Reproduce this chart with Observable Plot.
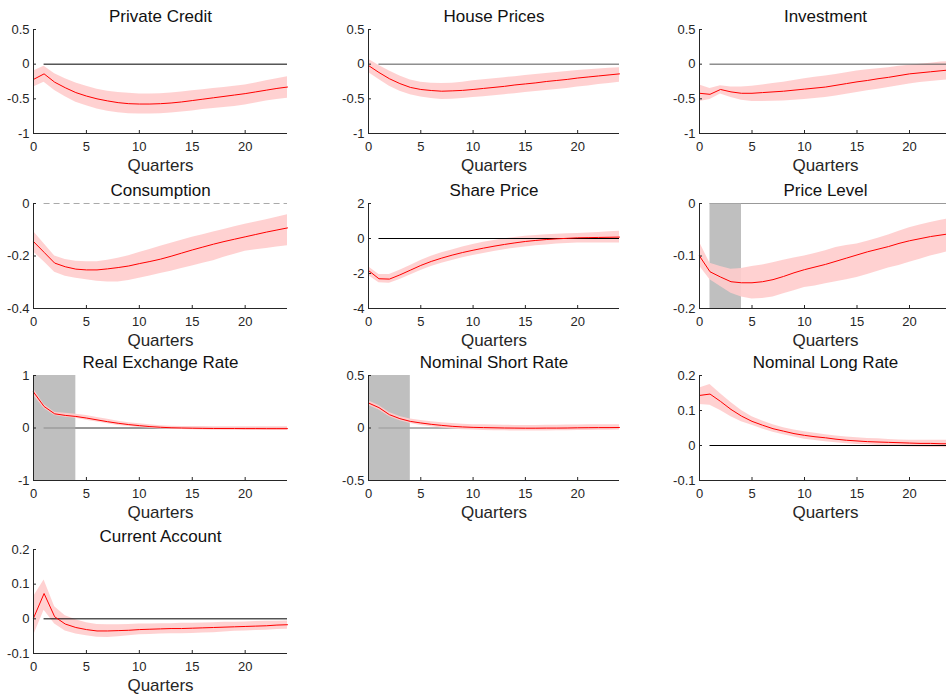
<!DOCTYPE html>
<html>
<head>
<meta charset="utf-8">
<script src="https://cdn.jsdelivr.net/npm/d3@7"></script>
<script src="https://cdn.jsdelivr.net/npm/@observablehq/plot@0.6"></script>
<style>
  body { margin: 0; background: #fff; }
  #grid { position: relative; width: 946px; height: 695px; overflow: hidden; background: #fff; }
  #grid svg { position: absolute; }
</style>
</head>
<body>
<div id="grid"></div>
<script>
// Impulse responses over 24 quarters: median response and error band (lo / hi)
const quarters = d3.range(0, 25);
const xTicks = [0, 5, 10, 15, 20];

const creditMid = [-0.22, -0.14, -0.26, -0.34, -0.41, -0.46, -0.50, -0.53, -0.555, -0.57, -0.575, -0.575, -0.57, -0.56, -0.545, -0.525, -0.505, -0.485, -0.465, -0.445, -0.425, -0.40, -0.375, -0.35, -0.33];
const creditHi  = [-0.10, -0.03, -0.14, -0.21, -0.27, -0.32, -0.36, -0.39, -0.41, -0.42, -0.43, -0.43, -0.425, -0.415, -0.40, -0.385, -0.37, -0.35, -0.335, -0.32, -0.30, -0.27, -0.24, -0.21, -0.18];
const creditLo  = [-0.33, -0.26, -0.38, -0.47, -0.55, -0.60, -0.645, -0.68, -0.70, -0.715, -0.72, -0.72, -0.715, -0.705, -0.69, -0.675, -0.655, -0.64, -0.625, -0.61, -0.59, -0.56, -0.53, -0.51, -0.49];

const houseMid = [-0.02, -0.12, -0.21, -0.28, -0.335, -0.365, -0.38, -0.39, -0.385, -0.378, -0.365, -0.35, -0.335, -0.32, -0.30, -0.285, -0.27, -0.25, -0.235, -0.22, -0.20, -0.185, -0.17, -0.155, -0.14];
const houseHi  = [0.07, -0.02, -0.10, -0.17, -0.23, -0.26, -0.275, -0.28, -0.275, -0.26, -0.24, -0.225, -0.21, -0.195, -0.18, -0.165, -0.15, -0.135, -0.12, -0.105, -0.09, -0.08, -0.07, -0.06, -0.05];
const houseLo  = [-0.12, -0.22, -0.32, -0.39, -0.44, -0.475, -0.495, -0.51, -0.505, -0.495, -0.48, -0.47, -0.455, -0.44, -0.425, -0.41, -0.395, -0.38, -0.365, -0.35, -0.33, -0.315, -0.295, -0.28, -0.26];

const investMid = [-0.42, -0.435, -0.365, -0.40, -0.42, -0.42, -0.41, -0.40, -0.39, -0.375, -0.36, -0.345, -0.33, -0.305, -0.28, -0.255, -0.235, -0.21, -0.19, -0.165, -0.14, -0.125, -0.11, -0.095, -0.08];
const investHi  = [-0.30, -0.35, -0.31, -0.33, -0.33, -0.32, -0.30, -0.28, -0.26, -0.235, -0.21, -0.19, -0.17, -0.15, -0.125, -0.10, -0.08, -0.065, -0.05, -0.03, -0.015, 0.0, 0.015, 0.03, 0.04];
const investLo  = [-0.54, -0.51, -0.43, -0.48, -0.52, -0.54, -0.54, -0.535, -0.53, -0.52, -0.51, -0.495, -0.48, -0.46, -0.435, -0.41, -0.385, -0.36, -0.335, -0.31, -0.285, -0.265, -0.25, -0.235, -0.22];

const consMid = [-0.145, -0.186, -0.227, -0.241, -0.25, -0.253, -0.253, -0.249, -0.244, -0.238, -0.229, -0.221, -0.212, -0.201, -0.189, -0.177, -0.166, -0.155, -0.145, -0.136, -0.127, -0.118, -0.109, -0.101, -0.093];
const consHi  = [-0.107, -0.153, -0.20, -0.213, -0.22, -0.222, -0.222, -0.216, -0.209, -0.199, -0.187, -0.175, -0.163, -0.151, -0.14, -0.129, -0.119, -0.109, -0.099, -0.089, -0.079, -0.07, -0.062, -0.052, -0.043];
const consLo  = [-0.185, -0.222, -0.262, -0.277, -0.285, -0.29, -0.296, -0.299, -0.299, -0.293, -0.285, -0.276, -0.267, -0.258, -0.248, -0.238, -0.228, -0.218, -0.205, -0.193, -0.182, -0.176, -0.171, -0.166, -0.161];

const shareMid = [-1.83, -2.30, -2.32, -2.08, -1.81, -1.54, -1.31, -1.12, -0.95, -0.80, -0.67, -0.55, -0.44, -0.34, -0.25, -0.17, -0.11, -0.06, -0.02, 0.01, 0.04, 0.05, 0.06, 0.07, 0.08];
const shareHi  = [-1.62, -2.06, -2.06, -1.82, -1.54, -1.26, -1.02, -0.82, -0.65, -0.49, -0.34, -0.22, -0.11, -0.02, 0.06, 0.13, 0.17, 0.21, 0.24, 0.27, 0.29, 0.32, 0.35, 0.39, 0.42];
const shareLo  = [-2.11, -2.53, -2.56, -2.34, -2.08, -1.83, -1.60, -1.42, -1.25, -1.10, -0.97, -0.85, -0.74, -0.64, -0.55, -0.48, -0.42, -0.37, -0.32, -0.28, -0.25, -0.25, -0.25, -0.25, -0.25];

const priceMid = [-0.10, -0.130, -0.140, -0.149, -0.151, -0.151, -0.149, -0.145, -0.139, -0.132, -0.126, -0.121, -0.116, -0.110, -0.104, -0.098, -0.092, -0.087, -0.082, -0.076, -0.071, -0.067, -0.063, -0.060, -0.057];
const priceHi  = [-0.074, -0.114, -0.12, -0.125, -0.124, -0.12, -0.117, -0.113, -0.108, -0.104, -0.10, -0.095, -0.09, -0.084, -0.08, -0.077, -0.072, -0.066, -0.06, -0.053, -0.046, -0.041, -0.036, -0.032, -0.028];
const priceLo  = [-0.119, -0.145, -0.158, -0.171, -0.178, -0.182, -0.181, -0.178, -0.172, -0.166, -0.16, -0.157, -0.153, -0.149, -0.145, -0.141, -0.135, -0.129, -0.123, -0.118, -0.112, -0.106, -0.10, -0.095, -0.09];

const reerMid = [0.685, 0.41, 0.27, 0.24, 0.22, 0.19, 0.155, 0.12, 0.09, 0.065, 0.045, 0.027, 0.014, 0.005, 0.0, -0.004, -0.007, -0.009, -0.01, -0.01, -0.011, -0.011, -0.012, -0.012, -0.012];
const reerHi  = [0.75, 0.45, 0.30, 0.28, 0.26, 0.24, 0.20, 0.165, 0.13, 0.10, 0.08, 0.06, 0.045, 0.035, 0.03, 0.028, 0.027, 0.026, 0.025, 0.025, 0.024, 0.024, 0.023, 0.023, 0.023];
const reerLo  = [0.62, 0.37, 0.24, 0.205, 0.185, 0.15, 0.115, 0.08, 0.05, 0.03, 0.01, -0.005, -0.018, -0.026, -0.03, -0.035, -0.039, -0.042, -0.044, -0.045, -0.046, -0.046, -0.047, -0.047, -0.047];

const shortMid = [0.238, 0.194, 0.127, 0.089, 0.063, 0.048, 0.035, 0.025, 0.016, 0.010, 0.006, 0.004, 0.002, 0.0, -0.001, -0.002, -0.002, -0.001, -0.001, 0.0, 0.002, 0.003, 0.004, 0.004, 0.005];
const shortHi  = [0.26, 0.215, 0.148, 0.11, 0.085, 0.072, 0.06, 0.05, 0.042, 0.036, 0.032, 0.03, 0.028, 0.026, 0.025, 0.025, 0.025, 0.026, 0.027, 0.028, 0.029, 0.03, 0.03, 0.03, 0.03];
const shortLo  = [0.215, 0.172, 0.106, 0.068, 0.042, 0.025, 0.012, 0.0, -0.01, -0.016, -0.02, -0.023, -0.025, -0.027, -0.028, -0.029, -0.029, -0.028, -0.027, -0.025, -0.024, -0.023, -0.022, -0.021, -0.02];

const longMid = [0.143, 0.147, 0.126, 0.103, 0.084, 0.069, 0.058, 0.048, 0.041, 0.034, 0.029, 0.025, 0.022, 0.018, 0.015, 0.013, 0.011, 0.010, 0.009, 0.008, 0.007, 0.006, 0.006, 0.005, 0.005];
const longHi  = [0.164, 0.174, 0.148, 0.123, 0.100, 0.082, 0.070, 0.059, 0.051, 0.044, 0.039, 0.035, 0.031, 0.027, 0.024, 0.022, 0.020, 0.019, 0.017, 0.016, 0.015, 0.015, 0.015, 0.015, 0.015];
const longLo  = [0.117, 0.115, 0.100, 0.082, 0.068, 0.058, 0.047, 0.038, 0.031, 0.024, 0.018, 0.014, 0.011, 0.008, 0.005, 0.003, 0.002, 0.0, -0.001, -0.003, -0.004, -0.005, -0.006, -0.006, -0.007];

const caMid = [0.002, 0.073, 0.006, -0.015, -0.025, -0.031, -0.035, -0.035, -0.034, -0.033, -0.031, -0.030, -0.029, -0.028, -0.028, -0.027, -0.026, -0.025, -0.024, -0.023, -0.022, -0.021, -0.020, -0.018, -0.017];
const caHi  = [0.064, 0.112, 0.035, 0.009, -0.003, -0.011, -0.016, -0.017, -0.017, -0.016, -0.015, -0.015, -0.014, -0.014, -0.013, -0.013, -0.012, -0.011, -0.010, -0.010, -0.009, -0.008, -0.007, -0.007, -0.006];
const caLo  = [-0.049, 0.025, -0.015, -0.035, -0.044, -0.049, -0.053, -0.054, -0.052, -0.049, -0.046, -0.045, -0.044, -0.043, -0.043, -0.042, -0.041, -0.040, -0.038, -0.036, -0.035, -0.034, -0.033, -0.031, -0.030];

const titles = ["Private Credit", "House Prices", "Investment", "Consumption", "Share Price", "Price Level",
                "Real Exchange Rate", "Nominal Short Rate", "Nominal Long Rate", "Current Account"];
const yDomains = [[-1, 0.5], [-1, 0.5], [-1, 0.5], [-0.4, 0], [-4, 2], [-0.2, 0], [-1, 1], [-0.5, 0.5], [-0.1, 0.2], [-0.1, 0.2]];
const yTickValues = [[-1, -0.5, 0, 0.5], [-1, -0.5, 0, 0.5], [-1, -0.5, 0, 0.5], [-0.4, -0.2, 0], [-4, -2, 0, 2],
                     [-0.2, -0.1, 0], [-1, 0, 1], [-0.5, 0, 0.5], [-0.1, 0, 0.1, 0.2], [-0.1, 0, 0.1, 0.2]];
// quarters covered by the grey window (null where there is none)
const shadeWindows = [null, null, null, null, null, [1, 4], [0, 4], [0, 4], null, null];

const series = [
  [creditMid, creditLo, creditHi], [houseMid, houseLo, houseHi], [investMid, investLo, investHi],
  [consMid, consLo, consHi], [shareMid, shareLo, shareHi], [priceMid, priceLo, priceHi],
  [reerMid, reerLo, reerHi], [shortMid, shortLo, shortHi], [longMid, longLo, longHi], [caMid, caLo, caHi]
];

// reference line at zero, per panel
const zeroStroke = ["#000", "#555", "#555", "#aaa", "#000", "#999", "#333", "#666", "#000", "#000"];
const zeroDash   = [null, null, null, "6,4", null, null, null, null, null, null];
const zeroOnTop  = [true, true, true, true, true, false, false, false, true, true];

// grid geometry (plot-frame left/top and size)
const colLeft = [33, 368, 699], colWidth = [254, 251, 252];
const rowTop = [29, 203, 375, 549], rowHeight = [104, 105, 105, 104];
const ML = 40, MR = 12, MT = 30, MB = 44;
const ink = "#262626";

const grid = document.getElementById("grid");

titles.forEach((title, i) => {
  const r = Math.floor(i / 3), c = i % 3;
  const fw = colWidth[c], fh = rowHeight[r];
  const [mid, lo, hi] = series[i];
  const rows = quarters.map((q, k) => ({q, mid: mid[k], lo: lo[k], hi: hi[k]}));
  const [y0] = yDomains[i];
  const zero = Plot.ruleY([0], {x1: 1, x2: 24, stroke: zeroStroke[i], strokeDasharray: zeroDash[i], strokeWidth: 1});
  const marks = [];

  if (!zeroOnTop[i]) marks.push(zero);
  if (shadeWindows[i]) {
    marks.push(Plot.rect([shadeWindows[i]], {x1: d => d[0], x2: d => d[1], fill: "#aaaaaa", fillOpacity: 0.75}));
  }
  marks.push(Plot.areaY(rows, {x: "q", y1: "lo", y2: "hi", fill: "#ffcccc", fillOpacity: 0.9}));
  if (zeroOnTop[i]) marks.push(zero);
  marks.push(Plot.lineY(rows, {x: "q", y: "mid", stroke: "#ff0000", strokeWidth: 1}));

  // axis lines (left and bottom only) with inward ticks
  marks.push(Plot.ruleX([0], {stroke: ink}));
  marks.push(Plot.ruleY([y0], {stroke: ink}));
  marks.push(Plot.ruleX(xTicks, {insetTop: fh - 3, stroke: ink}));
  marks.push(Plot.ruleY(yTickValues[i], {insetRight: fw - 3, stroke: ink}));

  marks.push(Plot.axisX(xTicks, {tickSize: 0, tickPadding: 8, tickFormat: d => String(d), label: null, fill: ink, fontSize: 13}));
  marks.push(Plot.axisY(yTickValues[i], {tickSize: 0, tickPadding: 4, tickFormat: d => String(d), label: null, fill: ink, fontSize: 13}));

  marks.push(Plot.text([title], {text: d => d, frameAnchor: "top", lineAnchor: "middle", dy: -13, fontSize: 17, fill: "#111"}));
  marks.push(Plot.text(["Quarters"], {text: d => d, frameAnchor: "bottom", lineAnchor: "middle", dy: 32, fontSize: 17, fill: ink}));

  const svg = Plot.plot({
    width: ML + fw + MR,
    height: MT + fh + MB,
    marginLeft: ML, marginRight: MR, marginTop: MT, marginBottom: MB,
    x: {domain: [0, 24], axis: null},
    y: {domain: yDomains[i], axis: null},
    style: {fontFamily: "'Liberation Sans', Arial, sans-serif", fontSize: "13px", background: "transparent", overflow: "visible", color: ink},
    marks
  });
  svg.style.left = (colLeft[c] - ML) + "px";
  svg.style.top = (rowTop[r] - MT) + "px";
  svg.style.maxWidth = "none";
  grid.appendChild(svg);
});
</script>
</body>
</html>
